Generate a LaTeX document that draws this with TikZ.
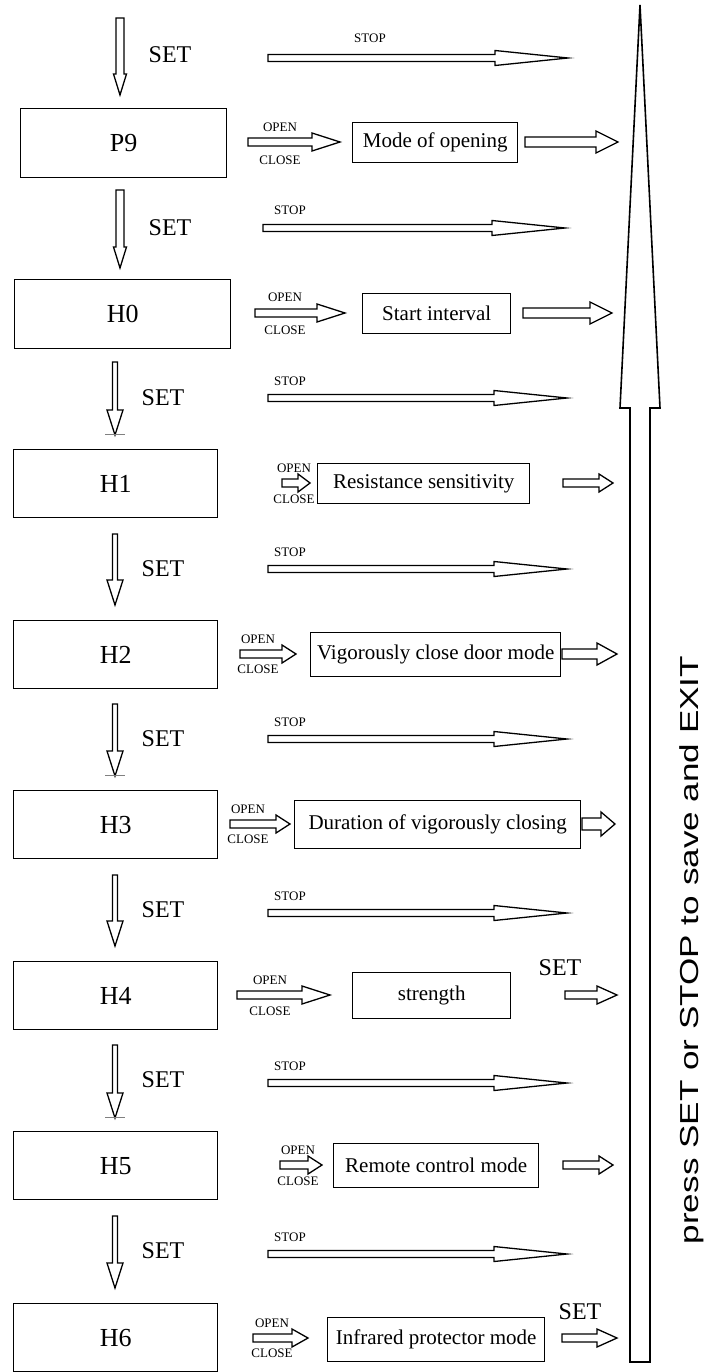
\documentclass[tikz,border=0pt]{standalone}
\usepackage{fontspec}
\setmainfont{Liberation Serif}
\setsansfont{Liberation Sans}
\tikzset{
  arr/.style={draw=black,line width=1.3pt,fill=white,line join=miter},
  bx/.style={draw=black,line width=1.4pt,fill=white,inner sep=0pt,anchor=north west},
  big/.style={font=\fontsize{26}{30}\selectfont},
  desc/.style={font=\fontsize{21}{25}\selectfont},
  setl/.style={font=\fontsize{24}{28}\selectfont},
  small/.style={font=\fontsize{13}{15}\selectfont},
}
% horizontal hollow arrow: x1,x2,y,half body,half head,head length
\newcommand\harr[6]{\draw[arr] (#1,#3-#4) -- (#2-#6,#3-#4) -- (#2-#6,#3-#5) -- (#2,#3) -- (#2-#6,#3+#5) -- (#2-#6,#3+#4) -- (#1,#3+#4) -- cycle;}
% vertical hollow arrow pointing down: x,y1,y2,half body,half head,head length
\newcommand\varr[6]{\draw[arr] (#1-#4,#2) -- (#1-#4,#3-#6) -- (#1-#5,#3-#6) -- (#1,#3) -- (#1+#5,#3-#6) -- (#1+#4,#3-#6) -- (#1+#4,#2) -- cycle;}
\begin{document}
\begin{tikzpicture}[x=1pt,y=-1pt]
\useasboundingbox (0,0) rectangle (708,1372);
% big return arrow
\draw[line width=1.6pt,fill=white] (630,1362) coordinate (bb) -- (630,408) -- (620,408) -- (640,5) coordinate (tip) -- (660,408) -- (650,408) -- (650,1362) -- cycle;
\node[font=\sffamily\fontsize{26}{30}\selectfont,rotate=90,inner sep=0pt] (exit) at (692,950) {\scalebox{1.35}[1]{press SET or STOP to save and EXIT}};

% ===== row P9 =====
\varr{120}{18}{95}{4}{6.5}{21}
\node[setl] (set0) at (170,55) {SET};
\harr{268}{568}{58}{3.5}{7.5}{73}
\node[small] (stop0) at (370,38) {STOP};
\node[bx,minimum width=206pt,minimum height=69pt] (p9) at (20,108) {};
\node[big] at (p9.center) {P9};
\harr{248}{340}{142}{4}{9}{28}
\node[small] (o0) at (280,127) {OPEN};
\node[small] (c0) at (280,160) {CLOSE};
\node[bx,minimum width=165pt,minimum height=40pt] (d0) at (352,122) {};
\node[desc] at (d0.center) {Mode of opening};
\harr{525}{618}{142}{5}{11}{22}

% ===== row H0 =====
\varr{120}{190}{268}{4}{6.5}{21}
\node[setl] (set1) at (170,228) {SET};
\harr{263}{565}{228}{3.5}{7.5}{73}
\node[small] (stop1) at (290,210) {STOP};
\node[bx,minimum width=216pt,minimum height=69pt] (h0) at (14,279) {};
\node[big] at (h0.center) {H0};
\harr{255}{345}{313}{4}{9}{28}
\node[small] (o1) at (285,297) {OPEN};
\node[small] (c1) at (285,330) {CLOSE};
\node[bx,minimum width=148pt,minimum height=40pt] (d1) at (362,293) {};
\node[desc] at (d1.center) {Start interval};
\harr{523}{612}{313}{5}{11}{22}

% ===== row H1 =====
\varr{115}{362}{435}{2.5}{8}{25}
\draw[line width=0.8pt,gray] (105,434) -- (125,434);
\node[setl] (set2) at (163,398) {SET};
\harr{268}{567}{398}{3.5}{7.5}{73}
\node[small] (stop2) at (290,381) {STOP};
\node[bx,minimum width=204pt,minimum height=68pt] (h1) at (13,449) {};
\node[big] at (h1.center) {H1};
\node[bx,minimum width=212pt,minimum height=40pt] (d2) at (317,463) {};
\node[desc] at (d2.center) {Resistance sensitivity};
\harr{282}{310}{483}{4}{9}{12}
\node[small] (o2) at (294,468) {OPEN};
\node[small] (c2) at (294,499) {CLOSE};
\harr{563}{613}{483}{4}{9}{14}

% ===== row H2 =====
\varr{115}{534}{605}{2.5}{8}{25}
\node[setl] (set3) at (163,569) {SET};
\harr{268}{567}{569}{3.5}{7.5}{73}
\node[small] (stop3) at (290,552) {STOP};
\node[bx,minimum width=204pt,minimum height=68pt] (h2) at (13,620) {};
\node[big] at (h2.center) {H2};
\harr{240}{296}{654}{4}{9}{14}
\node[small] (o3) at (258,639) {OPEN};
\node[small] (c3) at (258,669) {CLOSE};
\node[bx,minimum width=250pt,minimum height=44pt] (d3) at (310,632) {};
\node[desc] at (d3.center) {Vigorously close door mode};
\harr{562}{617}{654}{5}{11}{20}

% ===== row H3 =====
\varr{115}{704}{776}{2.5}{8}{25}
\draw[line width=0.8pt,gray] (105,775) -- (125,775);
\node[setl] (set4) at (163,739) {SET};
\harr{268}{567}{739}{3.5}{7.5}{73}
\node[small] (stop4) at (290,722) {STOP};
\node[bx,minimum width=204pt,minimum height=68pt] (h3) at (13,790) {};
\node[big] at (h3.center) {H3};
\harr{230}{290}{824}{4}{9}{14}
\node[small] (o4) at (248,809) {OPEN};
\node[small] (c4) at (248,839) {CLOSE};
\node[bx,minimum width=286pt,minimum height=48pt] (d4) at (294,800) {};
\node[desc] at (d4.center) {Duration of vigorously closing};
\harr{582}{615}{824}{6}{12}{14}

% ===== row H4 =====
\varr{115}{875}{946}{2.5}{8}{25}
\node[setl] (set5) at (163,910) {SET};
\harr{268}{567}{913}{3.5}{7.5}{73}
\node[small] (stop5) at (290,896) {STOP};
\node[bx,minimum width=204pt,minimum height=68pt] (h4) at (13,961) {};
\node[big] at (h4.center) {H4};
\harr{237}{330}{995}{4}{9}{28}
\node[small] (o5) at (270,980) {OPEN};
\node[small] (c5) at (270,1011) {CLOSE};
\node[bx,minimum width=158pt,minimum height=46pt] (d5) at (352,972) {};
\node[desc] at (d5.center) {strength};
\node[setl] (set5b) at (560,968) {SET};
\harr{565}{617}{995}{4}{9}{20}

% ===== row H5 =====
\varr{115}{1045}{1118}{2.5}{8}{25}
\draw[line width=0.8pt,gray] (105,1117) -- (125,1117);
\node[setl] (set6) at (163,1080) {SET};
\harr{268}{567}{1083}{3.5}{7.5}{73}
\node[small] (stop6) at (290,1066) {STOP};
\node[bx,minimum width=204pt,minimum height=68pt] (h5) at (13,1131) {};
\node[big] at (h5.center) {H5};
\harr{280}{322}{1165}{4}{9}{14}
\node[small] (o6) at (298,1150) {OPEN};
\node[small] (c6) at (298,1181) {CLOSE};
\node[bx,minimum width=205pt,minimum height=44pt] (d6) at (333,1143) {};
\node[desc] at (d6.center) {Remote control mode};
\harr{563}{613}{1165}{4}{9}{14}

% ===== row H6 =====
\varr{115}{1216}{1288}{2.5}{8}{25}
\node[setl] (set7) at (163,1251) {SET};
\harr{268}{567}{1254}{3.5}{7.5}{73}
\node[small] (stop7) at (290,1237) {STOP};
\node[bx,minimum width=204pt,minimum height=68pt] (h6) at (13,1303) {};
\node[big] at (h6.center) {H6};
\harr{253}{308}{1338}{4}{9}{16}
\node[small] (o7) at (272,1323) {OPEN};
\node[small] (c7) at (272,1353) {CLOSE};
\node[bx,minimum width=217pt,minimum height=44pt] (d7) at (327,1317) {};
\node[desc] at (d7.center) {Infrared protector mode};
\node[setl] (set7b) at (580,1312) {SET};
\harr{562}{617}{1338}{4}{9}{20}
\end{tikzpicture}
\end{document}
